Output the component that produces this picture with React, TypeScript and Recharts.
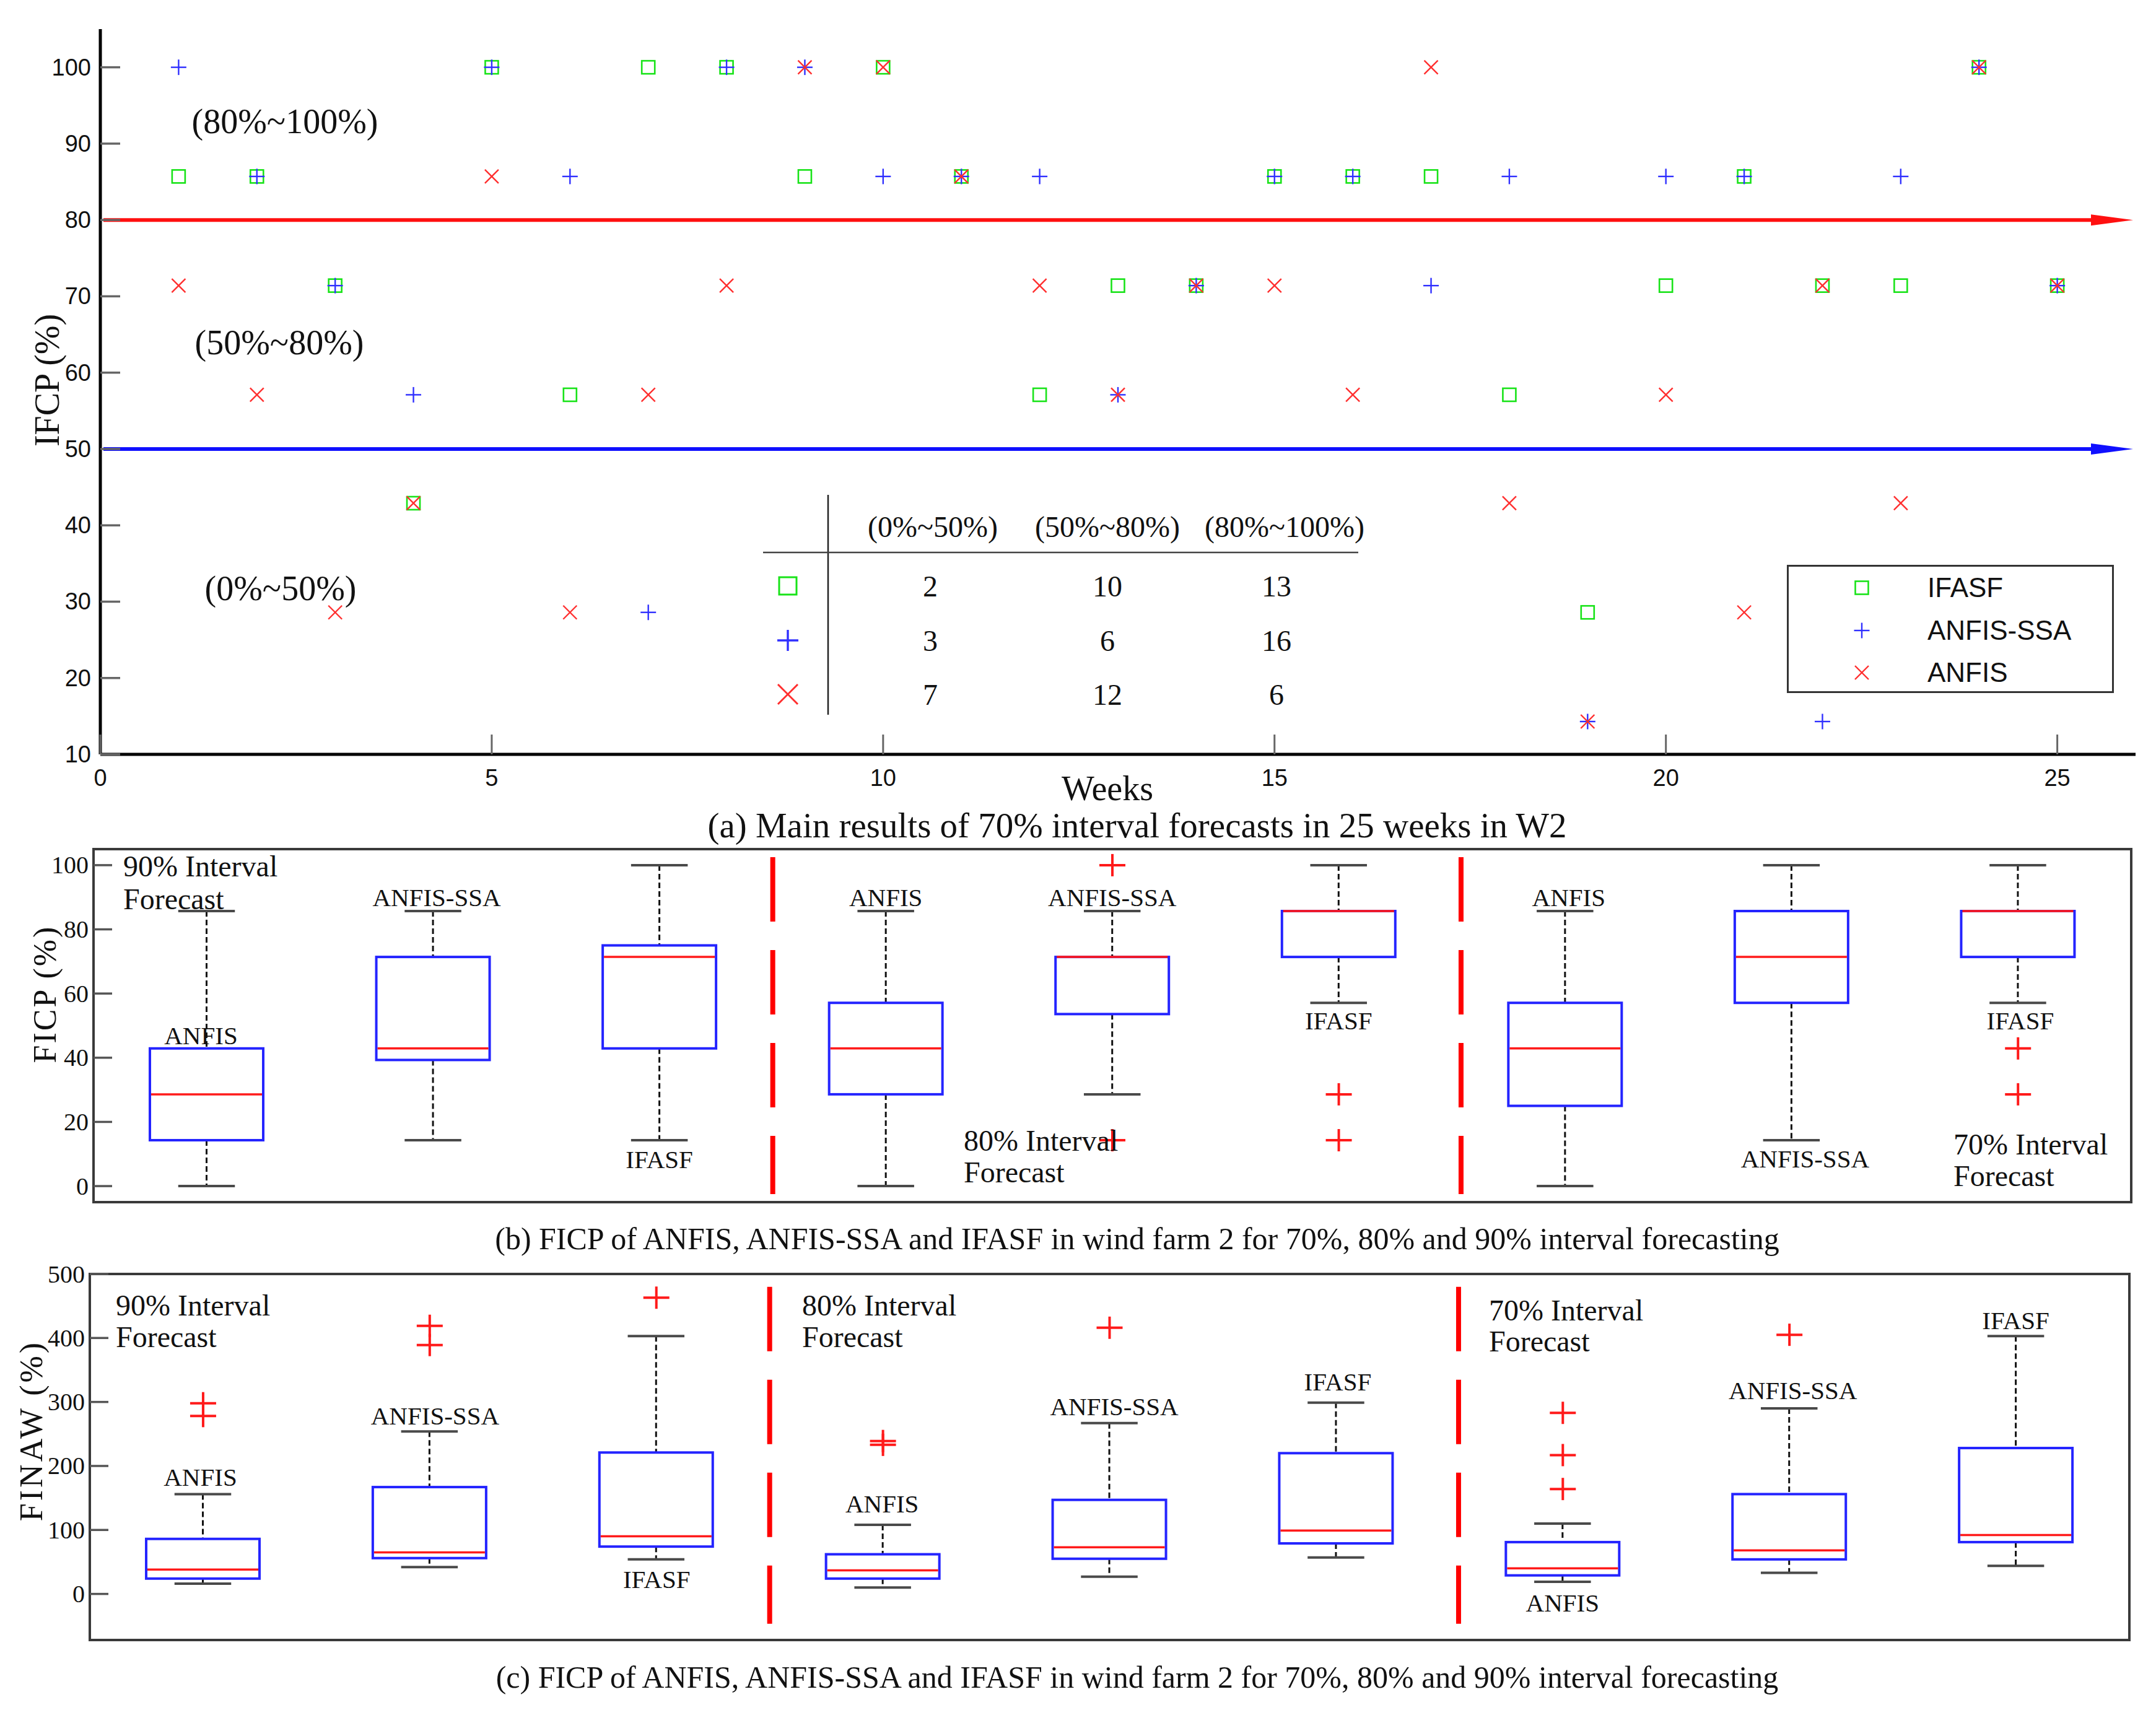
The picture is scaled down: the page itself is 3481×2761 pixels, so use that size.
import React from 'react';
import {
  ComposedChart,
  Scatter,
  Bar,
  XAxis,
  YAxis,
  ReferenceLine,
  ReferenceArea,
  Legend,
} from 'recharts';

const SERIF = '"Liberation Serif", "Times New Roman", serif';
const SANS = '"Liberation Sans", Arial, sans-serif';
const GREEN = '#18e318';
const BLUE = '#3030ff';
const RED = '#ff2e2e';
const BOX_BLUE = '#2424ff';
const INK = '#111';

// ---------------- panel (a): weekly interval coverage (%) ----------------
const weeks = [1, 2, 3, 4, 5, 6, 7, 8, 9, 10, 11, 12, 13, 14, 15, 16, 17, 18, 19, 20, 21, 22, 23, 24, 25];
const ifasfCover = [85.7, 85.7, 71.4, 42.9, 100, 57.1, 100, 100, 85.7, 100, 85.7, 57.1, 71.4, 71.4, 85.7, 85.7, 85.7, 57.1, 28.6, 71.4, 85.7, 71.4, 71.4, 100, 71.4];
const anfisSsaCover = [100, 85.7, 71.4, 57.1, 100, 85.7, 28.6, 100, 100, 85.7, 85.7, 85.7, 57.1, 71.4, 85.7, 85.7, 71.4, 85.7, 14.3, 85.7, 85.7, 14.3, 85.7, 100, 71.4];
const anfisCover = [71.4, 57.1, 28.6, 42.9, 85.7, 28.6, 57.1, 71.4, 100, 100, 85.7, 71.4, 57.1, 71.4, 71.4, 57.1, 100, 42.9, 14.3, 57.1, 28.6, 71.4, 42.9, 100, 71.4];
const weekTicks = [0, 5, 10, 15, 20, 25];
const coverTicks = [10, 20, 30, 40, 50, 60, 70, 80, 90, 100];
const legendNames = ['IFASF', 'ANFIS-SSA', 'ANFIS'];
const thresholdHigh = 80;
const thresholdLow = 50;

const bandLabels = ['(0%~50%)', '(50%~80%)', '(80%~100%)'];
const ifasfCounts = [2, 10, 13];
const anfisSsaCounts = [3, 6, 16];
const anfisCounts = [7, 12, 6];

// ---------------- panels (b) and (c): box plots ----------------
const boxPositions = [1, 2, 3, 4, 5, 6, 7, 8, 9];
const boxModels = ['ANFIS', 'ANFIS-SSA', 'IFASF', 'ANFIS', 'ANFIS-SSA', 'IFASF', 'ANFIS', 'ANFIS-SSA', 'IFASF'];
const separatorPositions = [3.5, 6.54];

const ficpLow = [0, 14.3, 14.3, 0, 28.6, 57.1, 0, 14.3, 57.1];
const ficpQ1 = [14.3, 39.3, 42.9, 28.6, 53.6, 71.4, 25.0, 57.1, 71.4];
const ficpMed = [28.6, 42.9, 71.4, 42.9, 71.4, 85.7, 42.9, 71.4, 85.7];
const ficpQ3 = [42.9, 71.4, 75.0, 57.1, 71.4, 85.7, 57.1, 85.7, 85.7];
const ficpHigh = [85.7, 85.7, 100, 85.7, 85.7, 100, 85.7, 100, 100];
const ficpOutlierPos = [5, 5, 6, 6, 9, 9];
const ficpOutlierVal = [100, 14.3, 28.6, 14.3, 42.9, 28.6];
const ficpTicks = [0, 20, 40, 60, 80, 100];

const finawLow = [16, 42, 54, 10, 27, 57, 19, 33, 44];
const finawQ1 = [24, 56, 74, 24, 55, 79, 29, 54, 81];
const finawMed = [38, 65, 90, 37, 73, 99, 40, 68, 92];
const finawQ3 = [86, 167, 221, 62, 147, 220, 81, 156, 228];
const finawHigh = [156, 254, 403, 108, 267, 299, 110, 290, 403];
const finawOutlierPos = [1, 1, 2, 2, 3, 4, 4, 5, 7, 7, 7, 8];
const finawOutlierVal = [278, 298, 389, 419, 463, 233, 239, 416, 164, 217, 283, 405];
const finawTicks = [0, 100, 200, 300, 400, 500];

// label placement (value on the y scale, small x nudge) for the model names
const ficpLabelAt = [47, 90, 8.3, 90, 90, 51.5, 90, 8.5, 51.5];
const ficpLabelDx = [-9, 6, 0, 0, 0, 0, 6, 22, 4];
const finawLabelAt = [183, 278, 23, 141, 293, 332, -14, 318, 427];
const finawLabelDx = [-4, 9, 1, -1, 8, 3, 0, 6, 0];

const toPoints = (vals: number[]) => weeks.map((w, i) => ({ week: w, v: vals[i] }));
const buildBoxes = (lo: number[], q1: number[], med: number[], q3: number[], hi: number[]) =>
  boxPositions.map((x, i) => ({ x, lo: lo[i], q1: q1[i], med: med[i], q3: q3[i], hi: hi[i], label: boxModels[i] }));
const buildOutliers = (pos: number[], val: number[]) => pos.map((x, i) => ({ x, y: val[i] }));

const ficpBoxes = buildBoxes(ficpLow, ficpQ1, ficpMed, ficpQ3, ficpHigh);
const finawBoxes = buildBoxes(finawLow, finawQ1, finawMed, finawQ3, finawHigh);
const ficpOutliers = buildOutliers(ficpOutlierPos, ficpOutlierVal);
const finawOutliers = buildOutliers(finawOutlierPos, finawOutlierVal);

// ---------------- marker glyphs ----------------
const squareGlyph = (cx: number, cy: number, s: number, sw: number) => (
  <rect x={cx - s / 2} y={cy - s / 2} width={s} height={s} fill="none" stroke={GREEN} strokeWidth={sw} />
);
const plusGlyph = (cx: number, cy: number, s: number, sw: number, color = BLUE, sh?: number) => {
  const h = sh ?? s;
  return (
    <g>
      <line x1={cx - s / 2} x2={cx + s / 2} y1={cy} y2={cy} stroke={color} strokeWidth={sw} />
      <line x1={cx} x2={cx} y1={cy - h / 2} y2={cy + h / 2} stroke={color} strokeWidth={sw} />
    </g>
  );
};
const crossGlyph = (cx: number, cy: number, s: number, sw: number) => (
  <g>
    <line x1={cx - s / 2} x2={cx + s / 2} y1={cy - s / 2} y2={cy + s / 2} stroke={RED} strokeWidth={sw} />
    <line x1={cx - s / 2} x2={cx + s / 2} y1={cy + s / 2} y2={cy - s / 2} stroke={RED} strokeWidth={sw} />
  </g>
);
const glyphFor = (name: string, cx: number, cy: number, big: boolean) => {
  if (name === 'IFASF') return squareGlyph(cx, cy, big ? 28 : 21, big ? 3 : 2.6);
  if (name === 'ANFIS-SSA') return plusGlyph(cx, cy, big ? 34 : 25, big ? 3.4 : 2.4);
  return crossGlyph(cx, cy, big ? 32 : 22, big ? 3 : 2.4);
};

const SquareShape = (p: any) => glyphFor('IFASF', p.cx, p.cy, false);
const PlusShape = (p: any) => glyphFor('ANFIS-SSA', p.cx, p.cy, false);
const CrossShape = (p: any) => glyphFor('ANFIS', p.cx, p.cy, false);
const OutlierShape = (p: any) => plusGlyph(p.cx, p.cy, 42, 4, '#ff1a1a', 36);

// ---------------- ticks ----------------
const LeftSansTick = (p: any) => (
  <g>
    <line x1={p.x} x2={p.x + 32} y1={p.y} y2={p.y} stroke="#666" strokeWidth={3.5} />
    <text x={p.x - 15} y={p.y} textAnchor="end" dominantBaseline="central" fontFamily={SANS} fontSize={38} fill={INK}>
      {p.payload.value}
    </text>
  </g>
);
const BottomSansTick = (p: any) => (
  <g>
    <line x1={p.x} x2={p.x} y1={p.y} y2={p.y - 32} stroke="#666" strokeWidth={3} />
    <text x={p.x} y={p.y + 38} textAnchor="middle" dominantBaseline="central" fontFamily={SANS} fontSize={38} fill={INK}>
      {p.payload.value}
    </text>
  </g>
);
const LeftSerifTick = (p: any) => (
  <g>
    <line x1={p.x} x2={p.x + 30} y1={p.y} y2={p.y} stroke="#555" strokeWidth={3.5} />
    <text x={p.x - 8} y={p.y} textAnchor="end" dominantBaseline="central" fontFamily={SERIF} fontSize={40} fill={INK}>
      {p.payload.value}
    </text>
  </g>
);
const RightInTick = (p: any) => (
  <line x1={p.x} x2={p.x - 29} y1={p.y} y2={p.y} stroke="#555" strokeWidth={3.5} />
);

// ---------------- arrow reference line ----------------
const arrowShape = (color: string) => (p: any) => {
  const { x1, y1, x2 } = p;
  const y = y1;
  const tip = x2 - 4;
  return (
    <g>
      <line x1={x1 + 5} x2={tip - 50} y1={y} y2={y} stroke={color} strokeWidth={6} />
      <polygon points={`${tip - 68},${y - 9} ${tip},${y} ${tip - 68},${y + 9}`} fill={color} />
    </g>
  );
};

// ---------------- box shape ----------------
const makeBoxShape = (labelAt: number[], labelDx: number[]) => (props: any) => {
  const { x, y, width, height, payload } = props;
  if (!payload || !isFinite(y) || !isFinite(height)) return null;
  const { lo, q1, med, q3, hi, label } = payload;
  const i = boxPositions.indexOf(payload.x);
  const py = (v: number) => y + ((hi - v) / (hi - lo)) * height;
  const cx = x + width / 2;
  const cap = width / 4;
  return (
    <g>
      <line x1={cx} x2={cx} y1={py(hi)} y2={py(q3)} stroke="#111" strokeWidth={3} strokeDasharray="9 5" />
      <line x1={cx} x2={cx} y1={py(q1)} y2={py(lo)} stroke="#111" strokeWidth={3} strokeDasharray="9 5" />
      <line x1={cx - cap} x2={cx + cap} y1={py(hi)} y2={py(hi)} stroke="#4a4a4a" strokeWidth={4} />
      <line x1={cx - cap} x2={cx + cap} y1={py(lo)} y2={py(lo)} stroke="#4a4a4a" strokeWidth={4} />
      <rect x={x} y={py(q3)} width={width} height={Math.max(py(q1) - py(q3), 0)} fill="none" stroke={BOX_BLUE} strokeWidth={4} />
      <line x1={x + 2} x2={x + width - 2} y1={py(med)} y2={py(med)} stroke="#ff1a1a" strokeWidth={3.5} />
      {i >= 0 && (
        <text
          x={cx + labelDx[i]}
          y={py(labelAt[i])}
          textAnchor="middle"
          dominantBaseline="central"
          fontFamily={SERIF}
          fontSize={41}
          fill={INK}
        >
          {label}
        </text>
      )}
    </g>
  );
};

// ---------------- legend ----------------
const renderLegend = (props: any) => {
  let names: string[] =
    props && props.payload && props.payload.length ? props.payload.map((e: any) => String(e.value)) : legendNames.slice();
  names = names
    .filter((n) => legendNames.indexOf(n) >= 0)
    .sort((a, b) => legendNames.indexOf(a) - legendNames.indexOf(b));
  if (!names.length) names = legendNames.slice();
  return (
    <div
      style={{
        width: 528,
        height: 207,
        boxSizing: 'border-box',
        border: '3px solid #333',
        background: '#fff',
        position: 'relative',
        fontFamily: SANS,
        fontSize: 44,
        color: INK,
      }}
    >
      {names.map((n, i) => (
        <div key={n} style={{ position: 'absolute', left: 0, top: 6 + i * 68.5, height: 56, width: '100%' }}>
          <svg width={60} height={56} style={{ position: 'absolute', left: 88, top: 0 }}>
            {glyphFor(n, 30, 28, false)}
          </svg>
          <span style={{ position: 'absolute', left: 224, top: 0, lineHeight: '56px', whiteSpace: 'nowrap' }}>{n}</span>
        </div>
      ))}
    </div>
  );
};

// ---------------- box panel ----------------
const BoxPanel = (props: {
  top: number;
  height: number;
  margin: any;
  boxes: any[];
  outliers: any[];
  domain: [number, number];
  ticks: number[];
  sepFrom: number;
  sepTo: number;
  labelAt: number[];
  labelDx: number[];
  barSize: number;
}) => {
  const { top, height, margin, boxes, outliers, domain, ticks, sepFrom, sepTo, labelAt, labelDx, barSize } = props;
  return (
    <div style={{ position: 'absolute', left: 0, top, width: 3481, height }}>
      <ComposedChart width={3481} height={height} data={boxes} margin={margin}>
        <XAxis type="number" dataKey="x" domain={[0.5, 9.5]} hide allowDataOverflow />
        <YAxis
          yAxisId="l"
          type="number"
          domain={domain}
          ticks={ticks}
          width={100}
          axisLine={false}
          tickLine={false}
          tickSize={0}
          tickMargin={0}
          tick={LeftSerifTick}
          allowDataOverflow
          interval={0}
        />
        <YAxis
          yAxisId="r"
          orientation="right"
          type="number"
          domain={domain}
          ticks={ticks}
          width={0}
          axisLine={false}
          tickLine={false}
          tickSize={0}
          tickMargin={0}
          tick={RightInTick}
          allowDataOverflow
          interval={0}
        />
        <ReferenceArea
          yAxisId="l"
          x1={0.5}
          x2={9.5}
          y1={domain[0]}
          y2={domain[1]}
          fill="none"
          fillOpacity={0}
          stroke="#3a3a3a"
          strokeWidth={4}
          ifOverflow="visible"
        />
        {separatorPositions.map((s) => (
          <ReferenceLine
            key={s}
            yAxisId="l"
            segment={[
              { x: s, y: sepFrom },
              { x: s, y: sepTo },
            ]}
            stroke="#ff0000"
            strokeWidth={8}
            strokeDasharray="104 46"
            ifOverflow="visible"
          />
        ))}
        <Bar
          yAxisId="l"
          dataKey={(d: any) => [d.lo, d.hi]}
          barSize={barSize}
          shape={makeBoxShape(labelAt, labelDx)}
          isAnimationActive={false}
          legendType="none"
        />
        <Scatter
          yAxisId="l"
          data={outliers}
          dataKey="y"
          shape={OutlierShape}
          isAnimationActive={false}
          legendType="none"
        />
      </ComposedChart>
    </div>
  );
};

const TextLine = (p: { x: number; y: number; size: number; anchor?: string; children: any; family?: string; ls?: number; rotate?: boolean }) => (
  <text
    x={p.x}
    y={p.y}
    fontFamily={p.family ?? SERIF}
    fontSize={p.size}
    textAnchor={(p.anchor as any) ?? 'middle'}
    dominantBaseline="central"
    fill={INK}
    letterSpacing={p.ls}
    transform={p.rotate ? `rotate(-90 ${p.x} ${p.y})` : undefined}
  >
    {p.children}
  </text>
);

const tableCols = [1506, 1788, 2074];
const tableValueCols = [1502, 1788, 2061];
const tableRows = [946, 1034, 1121];

export default function App() {
  const countRows = [ifasfCounts, anfisSsaCounts, anfisCounts];
  return (
    <div style={{ position: 'absolute', left: 0, top: 0, width: 3481, height: 2761, background: '#fff', overflow: 'hidden' }}>
      {/* panel (a) */}
      <div style={{ position: 'absolute', left: 0, top: 0, width: 3481, height: 1300 }}>
        <ComposedChart width={3481} height={1300} margin={{ top: 47, right: 33, bottom: 22, left: 62 }}>
          <XAxis
            type="number"
            dataKey="week"
            domain={[0, 26]}
            ticks={weekTicks}
            height={60}
            axisLine={{ stroke: '#000', strokeWidth: 5 }}
            tickLine={false}
            tickSize={0}
            tickMargin={0}
            tick={BottomSansTick}
            interval={0}
            allowDataOverflow
          />
          <YAxis
            type="number"
            domain={[10, 105]}
            ticks={coverTicks}
            width={100}
            axisLine={{ stroke: '#000', strokeWidth: 5 }}
            tickLine={false}
            tickSize={0}
            tickMargin={0}
            tick={LeftSansTick}
            interval={0}
            allowDataOverflow
          />
          <ReferenceLine y={thresholdHigh} stroke={RED} shape={arrowShape('#ff1010')} ifOverflow="visible" />
          <ReferenceLine y={thresholdLow} stroke={BLUE} shape={arrowShape('#1010ff')} ifOverflow="visible" />
          <Scatter name={legendNames[0]} data={toPoints(ifasfCover)} dataKey="v" shape={SquareShape} isAnimationActive={false} />
          <Scatter name={legendNames[1]} data={toPoints(anfisSsaCover)} dataKey="v" shape={PlusShape} isAnimationActive={false} />
          <Scatter name={legendNames[2]} data={toPoints(anfisCover)} dataKey="v" shape={CrossShape} isAnimationActive={false} />
          <Legend
            layout="vertical"
            align="center"
            verticalAlign="middle"
            content={renderLegend}
            wrapperStyle={{ position: 'absolute', left: 2885, top: 912, width: 528, height: 207, right: 'auto', bottom: 'auto' }}
          />
        </ComposedChart>
      </div>

      {/* panel (b) */}
      <BoxPanel
        top={1300}
        height={700}
        margin={{ top: 71, right: 40, bottom: 59, left: 51 }}
        boxes={ficpBoxes}
        outliers={ficpOutliers}
        domain={[-5, 105]}
        ticks={ficpTicks}
        sepFrom={102.5}
        sepTo={-2.5}
        labelAt={ficpLabelAt}
        labelDx={ficpLabelDx}
        barSize={183}
      />

      {/* panel (c) */}
      <BoxPanel
        top={2000}
        height={761}
        margin={{ top: 57, right: 43, bottom: 113, left: 45 }}
        boxes={finawBoxes}
        outliers={finawOutliers}
        domain={[-72, 500]}
        ticks={finawTicks}
        sepFrom={480}
        sepTo={-46.5}
        labelAt={finawLabelAt}
        labelDx={finawLabelDx}
        barSize={183}
      />

      {/* annotations */}
      <svg width={3481} height={2761} style={{ position: 'absolute', left: 0, top: 0, pointerEvents: 'none' }}>
        <TextLine x={76} y={614} size={56} rotate>IFCP (%)</TextLine>
        <TextLine x={460} y={196} size={56}>(80%~100%)</TextLine>
        <TextLine x={451} y={553} size={56}>(50%~80%)</TextLine>
        <TextLine x={453} y={950} size={56}>(0%~50%)</TextLine>
        <TextLine x={1788} y={1273} size={56}>Weeks</TextLine>
        <TextLine x={1836} y={1332} size={57}>(a) Main results of 70% interval forecasts in 25 weeks in W2</TextLine>

        {/* count table */}
        <line x1={1337} x2={1337} y1={799} y2={1154} stroke="#222" strokeWidth={2.5} />
        <line x1={1232} x2={2193} y1={892} y2={892} stroke="#444" strokeWidth={2.5} />
        {bandLabels.map((b, i) => (
          <TextLine key={b} x={tableCols[i]} y={850} size={48}>{b}</TextLine>
        ))}
        {legendNames.map((n, r) => (
          <g key={n}>
            {glyphFor(n, 1272, tableRows[r], true)}
            {countRows[r].map((c, j) => (
              <TextLine key={j} x={tableValueCols[j]} y={tableRows[r]} size={48}>{c}</TextLine>
            ))}
          </g>
        ))}

        {/* panel (b) texts */}
        <TextLine x={72} y={1605} size={52} ls={3} rotate>FICP (%)</TextLine>
        <TextLine x={199} y={1398} size={48} anchor="start">90% Interval</TextLine>
        <TextLine x={199} y={1451} size={48} anchor="start">Forecast</TextLine>
        <TextLine x={1556} y={1841} size={48} anchor="start">80% Interval</TextLine>
        <TextLine x={1556} y={1892} size={48} anchor="start">Forecast</TextLine>
        <TextLine x={3154} y={1847} size={48} anchor="start">70% Interval</TextLine>
        <TextLine x={3154} y={1898} size={48} anchor="start">Forecast</TextLine>
        <TextLine x={1836} y={2000} size={50}>(b) FICP of ANFIS, ANFIS-SSA and IFASF in wind farm 2 for 70%, 80% and 90% interval forecasting</TextLine>

        {/* panel (c) texts */}
        <TextLine x={50} y={2310} size={52} ls={4} rotate>FINAW (%)</TextLine>
        <TextLine x={187} y={2107} size={48} anchor="start">90% Interval</TextLine>
        <TextLine x={187} y={2158} size={48} anchor="start">Forecast</TextLine>
        <TextLine x={1295} y={2107} size={48} anchor="start">80% Interval</TextLine>
        <TextLine x={1295} y={2158} size={48} anchor="start">Forecast</TextLine>
        <TextLine x={2404} y={2115} size={48} anchor="start">70% Interval</TextLine>
        <TextLine x={2404} y={2165} size={48} anchor="start">Forecast</TextLine>
        <TextLine x={1836} y={2708} size={50}>(c) FICP of ANFIS, ANFIS-SSA and IFASF in wind farm 2 for 70%, 80% and 90% interval forecasting</TextLine>
      </svg>
    </div>
  );
}
